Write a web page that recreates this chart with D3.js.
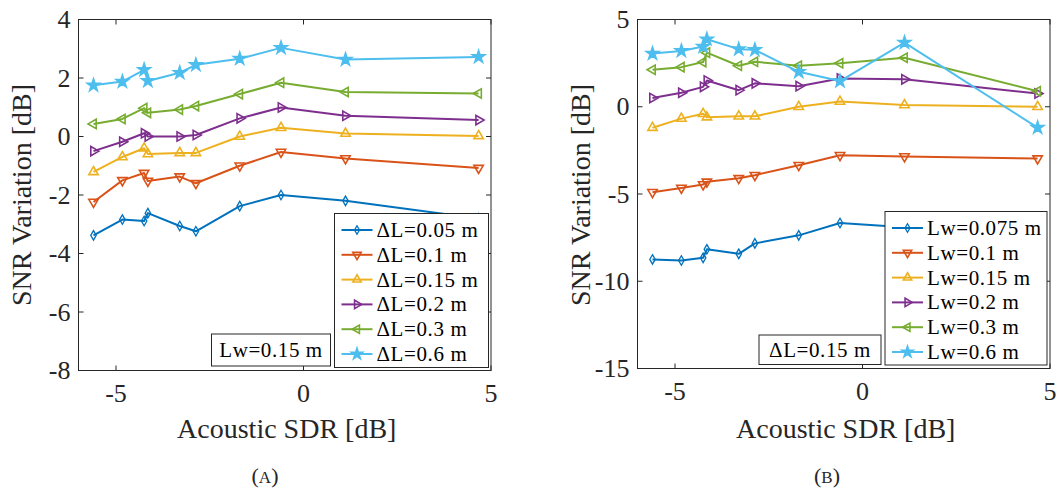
<!DOCTYPE html>
<html>
<head>
<meta charset="utf-8">
<script src="https://cdn.jsdelivr.net/npm/d3@7"></script>
<style>
  body { margin: 0; background: #fff; }
</style>
</head>
<body>
<div id="chart"></div>
<script>
// abscisse commune (Acoustic SDR [dB])
const sdr = [-5.6, -4.83, -4.25, -4.15, -3.3, -2.87, -1.7, -0.6, 1.12, 4.67]

// (A) Lw = 0.15 m, différents ΔL
const dl005 = [-3.38, -2.84, -2.89, -2.62, -3.06, -3.24, -2.38, -2.0, -2.2, -2.8]
const dl01 = [-2.24, -1.5, -1.25, -1.52, -1.37, -1.6, -1.0, -0.53, -0.75, -1.08]
const dl015 = [-1.21, -0.7, -0.4, -0.6, -0.56, -0.56, 0.0, 0.3, 0.1, 0.02]
const dl02 = [-0.5, -0.18, 0.11, 0.0, 0.0, 0.05, 0.62, 0.99, 0.71, 0.56]
const dl03 = [0.43, 0.6, 0.97, 0.81, 0.92, 1.04, 1.45, 1.84, 1.52, 1.47]
const dl06 = [1.75, 1.88, 2.28, 1.9, 2.18, 2.45, 2.66, 3.03, 2.63, 2.72]
const labelsA = ['ΔL=0.05 m', 'ΔL=0.1 m', 'ΔL=0.15 m', 'ΔL=0.2 m', 'ΔL=0.3 m', 'ΔL=0.6 m']

// (B) ΔL = 0.15 m, différents Lw
const lw0075 = [-8.75, -8.81, -8.66, -8.17, -8.43, -7.83, -7.37, -6.66, -6.9, -7.3]
const lw01 = [-4.9, -4.65, -4.45, -4.3, -4.1, -3.92, -3.35, -2.78, -2.85, -2.97]
const lw015 = [-1.2, -0.68, -0.4, -0.6, -0.55, -0.55, 0.0, 0.3, 0.1, 0.0]
const lw02 = [0.5, 0.8, 1.14, 1.5, 0.95, 1.34, 1.18, 1.62, 1.57, 0.76]
const lw03 = [2.12, 2.27, 2.56, 3.1, 2.35, 2.58, 2.35, 2.49, 2.81, 0.89]
const lw06 = [3.05, 3.2, 3.45, 3.87, 3.3, 3.26, 2.0, 1.47, 3.68, -1.2]
const labelsB = ['Lw=0.075 m', 'Lw=0.1 m', 'Lw=0.15 m', 'Lw=0.2 m', 'Lw=0.3 m', 'Lw=0.6 m']

const xTicks = [-5, 0, 5]
const yTicksA = [4, 2, 0, -2, -4, -6, -8]
const yTicksB = [5, 0, -5, -10, -15]

// couleurs MATLAB
const colors = ['#0072BD', '#D95319', '#EDB120', '#7E2F8E', '#77AC30', '#4DBEEE']
const markers = ['diamond', 'down', 'up', 'right', 'left', 'star']

const font = 'Liberation Serif'
const axisColor = '#262626'

const svg = d3.select('#chart')
    .append('svg')
    .attr('width', 1062)
    .attr('height', 494)
    .attr('font-family', font)

function markerPath(type, k) {
    if (type == 'diamond') return d3.symbol().type(d3.symbolDiamond).size(26 * k)()
    if (type == 'star') return d3.symbol().type(d3.symbolStar).size(48 * k)()
    return d3.symbol().type(d3.symbolTriangle).size(38 * k)()
}
function markerRotate(type) {
    if (type == 'down') return 180
    if (type == 'right') return 90
    if (type == 'left') return -90
    return 0
}

function drawMarker(g, type, color, x, y, k) {
    g.append('path')
        .attr('d', markerPath(type, k || 1))
        .attr('transform', 'translate(' + x + ',' + y + ') rotate(' + markerRotate(type) + ')')
        .attr('fill', type == 'star' ? color : 'none')
        .attr('stroke', color)
        .attr('stroke-width', type == 'diamond' ? 1.3 : 1.6)
}

function addText(g, x, y, size, str, anchor) {
    return g.append('text')
        .attr('x', x).attr('y', y)
        .attr('font-family', font)
        .attr('font-size', size)
        .attr('text-anchor', anchor || 'start')
        .attr('fill', axisColor)
        .text(str)
}

function drawPanel(p) {
    const x = d3.scaleLinear().domain([-6, 5]).range([p.left, p.right])
    const y = d3.scaleLinear().domain(p.yDomain).range([p.bottom, p.top])
    const g = svg.append('g')

    // séries
    p.series.forEach(function (vals, i) {
        const pts = sdr.map(function (d, k) { return [d, vals[k]] })
        g.append('path')
            .datum(pts)
            .attr('fill', 'none')
            .attr('stroke', colors[i])
            .attr('stroke-width', 2)
            .attr('stroke-linejoin', 'round')
            .attr('d', d3.line().x(function (d) { return x(d[0]) }).y(function (d) { return y(d[1]) }))
        pts.forEach(function (d) { drawMarker(g, markers[i], colors[i], x(d[0]), y(d[1])) })
    })

    // cadre et graduations (vers l'intérieur, sur les 4 côtés)
    const tl = 5
    g.append('rect')
        .attr('x', p.left).attr('y', p.top)
        .attr('width', p.right - p.left).attr('height', p.bottom - p.top)
        .attr('fill', 'none').attr('stroke', axisColor).attr('stroke-width', 1)

    xTicks.forEach(function (t) {
        g.append('line').attr('x1', x(t)).attr('x2', x(t)).attr('y1', p.bottom).attr('y2', p.bottom - tl).attr('stroke', axisColor)
        g.append('line').attr('x1', x(t)).attr('x2', x(t)).attr('y1', p.top).attr('y2', p.top + tl).attr('stroke', axisColor)
        addText(g, x(t), p.bottom + 31, 26, t, 'middle')
    })
    p.yTicks.forEach(function (t) {
        g.append('line').attr('x1', p.left).attr('x2', p.left + tl).attr('y1', y(t)).attr('y2', y(t)).attr('stroke', axisColor)
        g.append('line').attr('x1', p.right).attr('x2', p.right - tl).attr('y1', y(t)).attr('y2', y(t)).attr('stroke', axisColor)
        addText(g, p.left - 8, y(t) + 8.5, 26, t, 'end')
    })

    // titres des axes
    addText(g, (p.left + p.right) / 2 + 2, 438, 28, 'Acoustic SDR [dB]', 'middle')
    addText(g, 0, 0, 28, 'SNR Variation [dB]', 'middle')
        .attr('transform', 'translate(' + (p.left - 48) + ',195) rotate(-90)')

    // légende
    const lg = g.append('g')
    lg.append('rect')
        .attr('x', p.legend[0]).attr('y', p.legend[1])
        .attr('width', p.legend[2]).attr('height', p.legend[3])
        .attr('fill', 'white').attr('stroke', axisColor)
    p.labels.forEach(function (lab, i) {
        const cy = p.legend[1] + 16.5 + i * 24.8
        const x0 = p.legend[0] + 7
        lg.append('line')
            .attr('x1', x0).attr('x2', x0 + 31).attr('y1', cy).attr('y2', cy)
            .attr('stroke', colors[i]).attr('stroke-width', 2)
        drawMarker(lg, markers[i], colors[i], x0 + 15.5, cy, 0.8)
        addText(lg, x0 + 35, cy + 7, 21, lab).attr('fill', '#000').attr('letter-spacing', 0.6)
    })

    // boîte d'annotation
    g.append('rect')
        .attr('x', p.note[0]).attr('y', p.note[1])
        .attr('width', p.note[2]).attr('height', p.note[3])
        .attr('fill', 'white').attr('stroke', axisColor)
    addText(g, p.note[0] + p.note[2] / 2, p.note[1] + p.note[3] / 2 + 7, 21, p.noteText, 'middle')
        .attr('fill', '#000').attr('letter-spacing', 0.6)

    // légende de la figure (A) / (B)
    const cap = addText(g, p.caption, 483, 22, '', 'middle')
    cap.append('tspan').text('(')
    cap.append('tspan').attr('font-size', 17).text(p.letter)
    cap.append('tspan').text(')')
}

drawPanel({
    left: 78.5, right: 491, top: 19.5, bottom: 370.5,
    yDomain: [-8, 4], yTicks: yTicksA,
    series: [dl005, dl01, dl015, dl02, dl03, dl06],
    labels: labelsA,
    legend: [334.5, 213.5, 154, 154],
    note: [211.5, 334, 119, 32], noteText: 'Lw=0.15 m',
    caption: 265, letter: 'A'
})

drawPanel({
    left: 637.5, right: 1050, top: 19.5, bottom: 368.5,
    yDomain: [-15, 5], yTicks: yTicksB,
    series: [lw0075, lw01, lw015, lw02, lw03, lw06],
    labels: labelsB,
    legend: [885, 211.5, 162, 153.5],
    note: [759, 335, 122, 29.5], noteText: 'ΔL=0.15 m',
    caption: 827, letter: 'B'
})
</script>
</body>
</html>
